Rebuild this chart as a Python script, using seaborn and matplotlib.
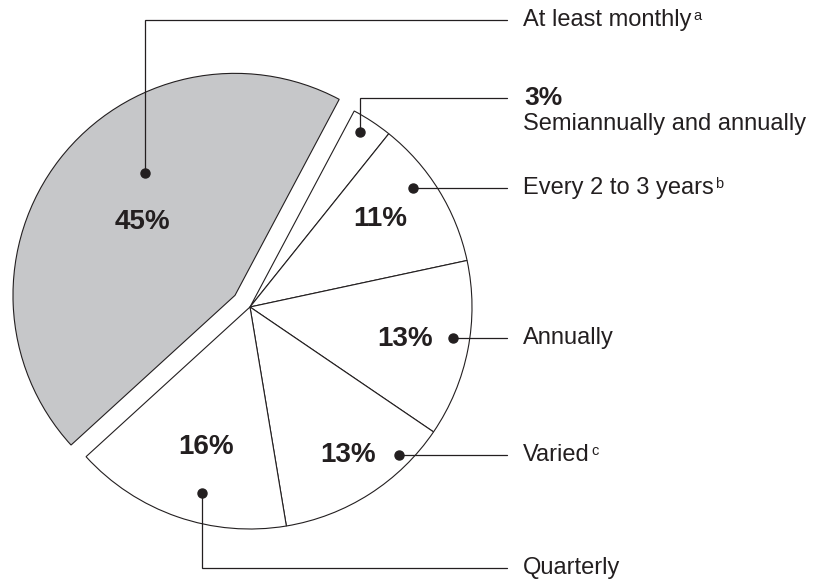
import matplotlib
matplotlib.use("Agg")
import matplotlib.pyplot as plt
import seaborn as sns

# slice order, clockwise from the small 3% slice
labels = ["Semiannually and annually", "Every 2 to 3 years", "Annually",
          "Varied", "Quarterly", "At least monthly"]
notes = ["", "b", "", "c", "", "a"]
shares = [3, 11, 13, 13, 16, 45]

W, H = 813, 584
INK = "#231f20"
GREY = "#c6c7c9"
FONT = ["Liberation Sans", "DejaVu Sans"]

# layout in pixels (y measured from the top of the image)
PIE_CENTER = (250, 307)
PIE_RADIUS = 222
PULL_OUT = 19  # how far the big slice is pulled out, pixels
# percent label centres
pct_pos = [None, (380, 219), (405, 339), (348, 455), (206, 447), (142, 222)]
# leader dots and the row the label sits on
dot_pos = [(360, 132), (413, 188), (453, 338), (399, 455), (202, 493), (145, 173)]
row_y = [98, 188, 338, 455, 568, 20]
LINE_END = 507
TEXT_X = 523


def fy(y):
    return H - y


def main():
    sns.set_style("white")
    plt.rcParams["font.family"] = FONT

    fig = plt.figure(figsize=(W / 100, H / 100), dpi=100)
    ax = fig.add_axes([0, 0, 1, 1])

    colors = ["white"] * 5 + [GREY]
    # explode is in data units here, since the axes are in pixels
    explode = [0] * 5 + [PULL_OUT]
    ax.pie(shares, colors=colors, explode=explode, startangle=62,
           counterclock=False, radius=PIE_RADIUS,
           center=(PIE_CENTER[0], fy(PIE_CENTER[1])),
           wedgeprops=dict(edgecolor=INK, linewidth=0.8))
    ax.set_xlim(0, W)
    ax.set_ylim(0, H)
    ax.set_aspect("equal")
    ax.axis("off")

    for i, (lab, note, val) in enumerate(zip(labels, notes, shares)):
        dx, dy = dot_pos[i]
        ry = row_y[i]
        # leader line: down/up from the dot to the row, then across
        ax.plot([dx, dx, LINE_END], [fy(dy), fy(ry), fy(ry)],
                color=INK, lw=0.9, solid_joinstyle="miter")
        ax.plot(dx, fy(dy), "o", color=INK, ms=6.5)

        if pct_pos[i] is not None:
            px, py = pct_pos[i]
            ax.text(px, fy(py), f"{val}%", ha="center", va="center",
                    fontsize=20, fontweight="bold", color=INK)
            t = ax.text(TEXT_X, fy(ry), lab, ha="left", va="center",
                        fontsize=17, color=INK)
        else:
            # the small slice carries its value beside the label
            ax.text(TEXT_X + 1, fy(ry), f"{val}%", ha="left", va="center",
                    fontsize=19, fontweight="bold", color=INK)
            t = ax.text(TEXT_X, fy(124), lab, ha="left", va="center",
                        fontsize=17, color=INK)
        if note:
            # small superscript note letter just after the label
            ax.annotate(note, xy=(1.0, 1.0), xycoords=t,
                        xytext=(1, 0), textcoords="offset points",
                        ha="left", va="top", fontsize=10.5, color=INK)

    fig.savefig("out.png", dpi=100, facecolor="white")


if __name__ == '__main__':
    main()
